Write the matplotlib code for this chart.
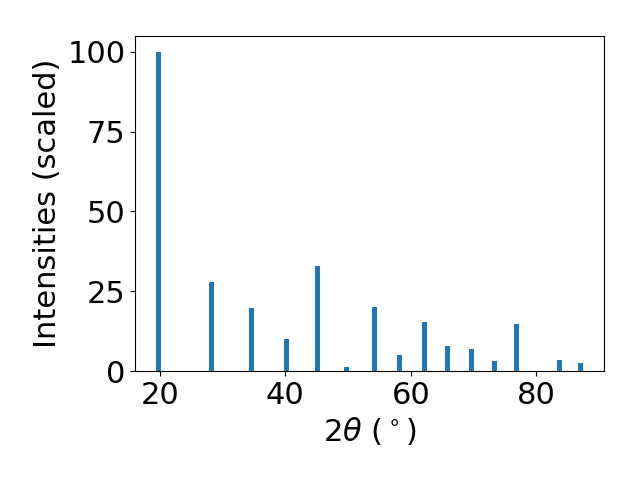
import numpy as np
import matplotlib
matplotlib.use('Agg')
import matplotlib.pyplot as plt

# peak positions (2theta, deg) and scaled intensities
two_theta = [19.85, 28.2, 34.6, 40.2, 45.2, 49.8, 54.15, 58.2, 62.2, 65.9,
             69.6, 73.3, 76.8, 83.7, 87.0]
intensity = [100, 27.8, 19.8, 10.0, 32.9, 1.2, 20.1, 5.0, 15.4, 7.8,
             6.9, 3.1, 14.7, 3.4, 2.5]

plt.rcParams['font.size'] = 22
fig, ax = plt.subplots(figsize=(6.4, 4.8), dpi=100)
ax.bar(two_theta, intensity, width=0.8)
ax.set_xlabel(r'$2\theta\ (^\circ)$')
ax.set_ylabel('Intensities (scaled)')
ax.set_yticks([0, 25, 50, 75, 100])
fig.subplots_adjust(left=0.211, right=0.944, top=0.925, bottom=0.227)
fig.savefig('out.png')
